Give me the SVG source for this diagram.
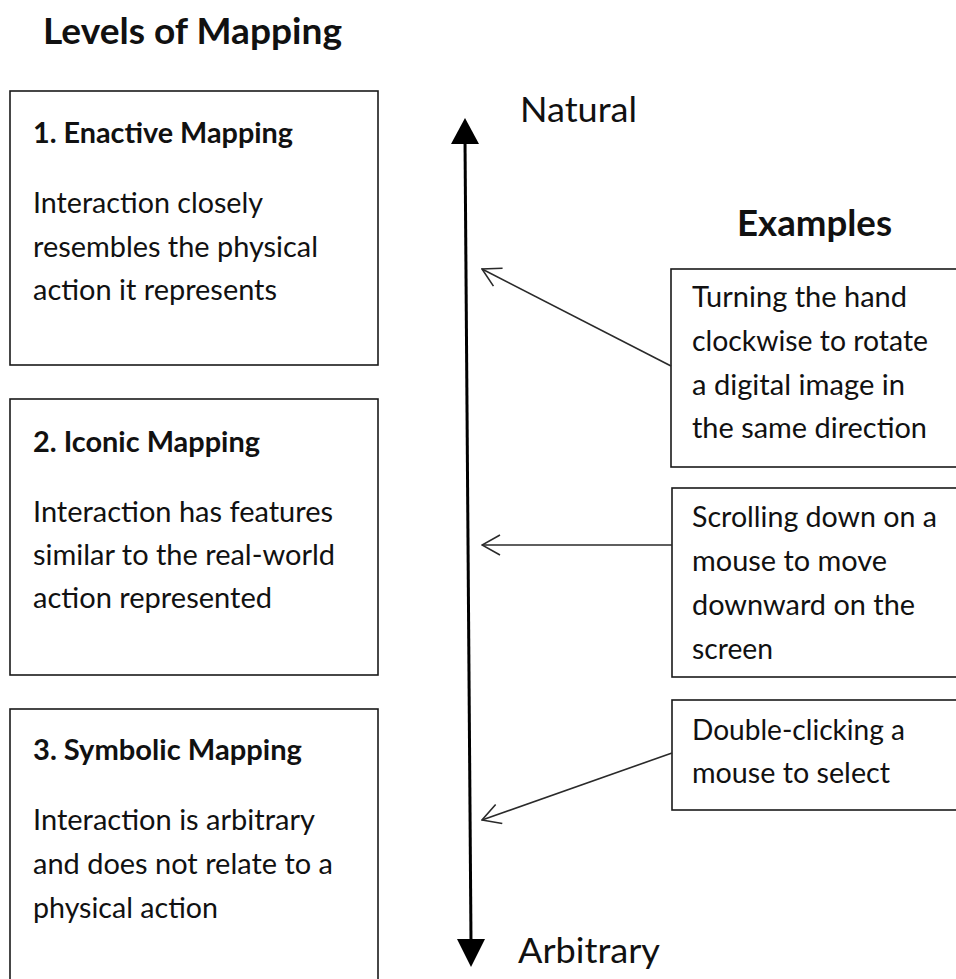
<svg xmlns="http://www.w3.org/2000/svg" width="956" height="979" viewBox="0 0 956 979">
  <style>
    text { font-family: Lato, "Liberation Sans", sans-serif; fill: #111; }
    .h1 { font-size: 36px; font-weight: bold; }
    .h2 { font-size: 28px; font-weight: bold; }
    .body { font-size: 28px; }
    .axis-label { font-size: 35px; }
    .box { fill: #fff; stroke: #1a1a1a; stroke-width: 1.6; }
    .link { fill: none; stroke: #2a2a2a; stroke-width: 1.6; }
  </style>
  <defs>
    <!-- open V arrowhead, tip at the line end -->
    <marker id="open" viewBox="0 0 20 22" refX="19" refY="11" markerWidth="20" markerHeight="22" markerUnits="userSpaceOnUse" orient="auto">
      <path d="M1 1 L19 11 L1 21" fill="none" stroke="#2a2a2a" stroke-width="1.6"/>
    </marker>
  </defs>

  <rect width="956" height="979" fill="#fff"/>

  <text class="h1" x="43" y="44" textLength="299" lengthAdjust="spacingAndGlyphs">Levels of Mapping</text>

  <!-- levels -->
  <g id="level-enactive">
    <rect class="box" x="10" y="91" width="368" height="274"/>
    <text class="h2" x="33" y="143" textLength="260" lengthAdjust="spacingAndGlyphs">1. Enactive Mapping</text>
    <text class="body" x="33" y="213" textLength="230" lengthAdjust="spacingAndGlyphs">Interaction closely</text>
    <text class="body" x="33" y="257" textLength="285" lengthAdjust="spacingAndGlyphs">resembles the physical</text>
    <text class="body" x="33" y="300" textLength="244" lengthAdjust="spacingAndGlyphs">action it represents</text>
  </g>
  <g id="level-iconic">
    <rect class="box" x="10" y="399" width="368" height="276"/>
    <text class="h2" x="33" y="452" textLength="227" lengthAdjust="spacingAndGlyphs">2. Iconic Mapping</text>
    <text class="body" x="33" y="522" textLength="300" lengthAdjust="spacingAndGlyphs">Interaction has features</text>
    <text class="body" x="33" y="565" textLength="302" lengthAdjust="spacingAndGlyphs">similar to the real-world</text>
    <text class="body" x="33" y="608" textLength="239" lengthAdjust="spacingAndGlyphs">action represented</text>
  </g>
  <g id="level-symbolic">
    <rect class="box" x="10" y="709" width="368" height="290"/>
    <text class="h2" x="33" y="760" textLength="269" lengthAdjust="spacingAndGlyphs">3. Symbolic Mapping</text>
    <text class="body" x="33" y="830" textLength="282" lengthAdjust="spacingAndGlyphs">Interaction is arbitrary</text>
    <text class="body" x="33" y="874" textLength="300" lengthAdjust="spacingAndGlyphs">and does not relate to a</text>
    <text class="body" x="33" y="918" textLength="185" lengthAdjust="spacingAndGlyphs">physical action</text>
  </g>

  <!-- scale axis -->
  <g id="axis">
    <line x1="465" y1="140" x2="471" y2="942" stroke="#000" stroke-width="3"/>
    <polygon points="465,118 451,144 479,144" fill="#000"/>
    <polygon points="471,967 457,939 485,939" fill="#000"/>
    <text class="axis-label" x="520" y="122" textLength="117" lengthAdjust="spacingAndGlyphs">Natural</text>
    <text class="axis-label" x="518" y="963" textLength="142" lengthAdjust="spacingAndGlyphs">Arbitrary</text>
  </g>

  <text class="h1" x="737" y="236" textLength="155" lengthAdjust="spacingAndGlyphs">Examples</text>

  <!-- examples -->
  <g id="example-rotate">
    <rect class="box" x="671" y="269" width="300" height="198"/>
    <text class="body" x="692" y="307" textLength="215" lengthAdjust="spacingAndGlyphs">Turning the hand</text>
    <text class="body" x="692" y="351" textLength="236" lengthAdjust="spacingAndGlyphs">clockwise to rotate</text>
    <text class="body" x="692" y="395" textLength="213" lengthAdjust="spacingAndGlyphs">a digital image in</text>
    <text class="body" x="692" y="438" textLength="235" lengthAdjust="spacingAndGlyphs">the same direction</text>
  </g>
  <g id="example-scroll">
    <rect class="box" x="672" y="488" width="300" height="189"/>
    <text class="body" x="692" y="527" textLength="245" lengthAdjust="spacingAndGlyphs">Scrolling down on a</text>
    <text class="body" x="692" y="571" textLength="195" lengthAdjust="spacingAndGlyphs">mouse to move</text>
    <text class="body" x="692" y="615" textLength="223" lengthAdjust="spacingAndGlyphs">downward on the</text>
    <text class="body" x="692" y="659" textLength="81" lengthAdjust="spacingAndGlyphs">screen</text>
  </g>
  <g id="example-doubleclick">
    <rect class="box" x="672" y="700" width="300" height="110"/>
    <text class="body" x="692" y="740" textLength="213" lengthAdjust="spacingAndGlyphs">Double-clicking a</text>
    <text class="body" x="692" y="783" textLength="198" lengthAdjust="spacingAndGlyphs">mouse to select</text>
  </g>

  <!-- example pointers -->
  <g id="connectors">
    <line class="link" x1="671" y1="366" x2="482" y2="269" marker-end="url(#open)"/>
    <line class="link" x1="672" y1="545" x2="482" y2="545" marker-end="url(#open)"/>
    <line class="link" x1="672" y1="753" x2="482" y2="820" marker-end="url(#open)"/>
  </g>
</svg>
